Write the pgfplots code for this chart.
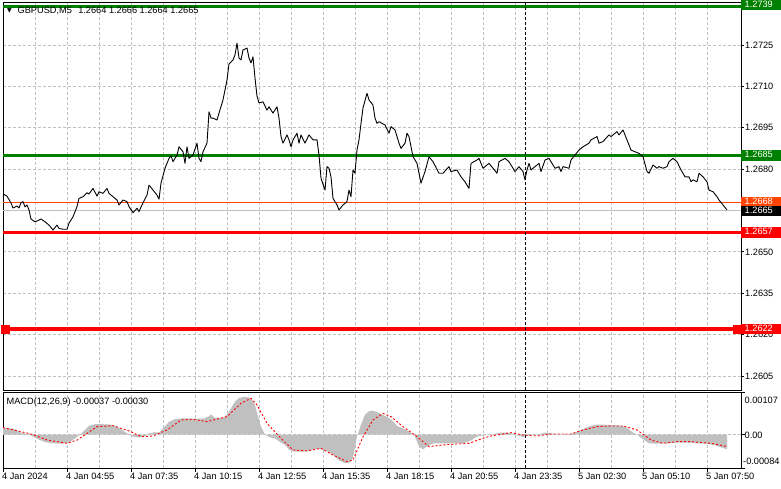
\documentclass[border=0pt]{standalone}
\usepackage{pgfplots}
\pgfplotsset{compat=1.18}
\usepackage{fontspec}
\setmainfont{Liberation Sans}
\newfontfamily\symfont{DejaVu Sans}
\definecolor{mtgreen}{HTML}{008000}
\definecolor{mtorange}{HTML}{FF4500}
\definecolor{silver}{HTML}{C0C0C0}
\definecolor{mtred}{HTML}{FF0000}
\newcommand{\mtfont}{\fontsize{9.2bp}{10.5bp}\selectfont}
\tikzset{
  lbl/.style={anchor=west, text=white, inner xsep=3.5bp, inner ysep=1bp, text width=34bp, align=left, text height=6.6bp, text depth=1.8bp, font=\mtfont},
}
\begin{document}
\begin{tikzpicture}[font=\mtfont]
\path[use as bounding box] (0bp,0bp) rectangle (781bp,489bp);
% ---------------- main price panel ----------------
\begin{axis}[
  at={(3bp,99bp)}, anchor=south west, scale only axis,
  width=738bp, height=388bp,
  xmin=0, xmax=369, ymin=1.25999, ymax=1.27406,
  clip=false,
  xtick={16,32,...,352}, xticklabels={}, xtick style={draw=none},
  xmajorgrids, ymajorgrids,
  major grid style={silver, dash pattern=on 3bp off 2bp, line width=0.7bp},
  ytick={1.2605,1.2620,1.2635,1.2650,1.2665,1.2680,1.2695,1.2710,1.2725},
  yticklabels={1.2605,1.2620,1.2635,1.2650,1.2665,1.2680,1.2695,1.2710,1.2725},
  ytick pos=right, yticklabel pos=right, tick align=outside, major tick length=3bp,
  ytick style={black, line width=0.7bp},
  yticklabel style={anchor=west, inner sep=0pt, xshift=1bp},
  tick label style={font=\mtfont},
  axis line style={black, line width=0.9bp},
]
\addplot[mtgreen, line width=3.5bp] coordinates {(0,1.2739) (369,1.2739)};
\addplot[mtgreen, line width=2.5bp] coordinates {(0,1.2685) (369,1.2685)};
\addplot[mtorange, line width=1bp] coordinates {(0,1.2668) (369,1.2668)};
\addplot[silver, line width=1bp] coordinates {(0,1.2665) (369,1.2665)};
\addplot[mtred, line width=2.5bp] coordinates {(0,1.2657) (369,1.2657)};
\addplot[mtred, line width=4bp] coordinates {(0,1.2622) (369,1.2622)};
\addplot[mtred, only marks, mark=square*, mark size=4bp] coordinates {(0.9,1.2622) (367,1.2622)};
\addplot[black, dash pattern=on 3bp off 2bp, line width=0.8bp] coordinates {(261,1.25999) (261,1.27406)};
\addplot[black, line width=0.9bp, line join=round] coordinates {
(0,1.26710)(2,1.26702)(4,1.26677)(5,1.26659)(7,1.26666)(8,1.26659)(9,1.26678)(10,1.26682)(11,1.26663)(12,1.26670)(13,1.26652)(14,1.26619)(16,1.26609)(18,1.26615)(19,1.26619)(21,1.26609)(23,1.26597)(25,1.26579)(27,1.26597)(28,1.26585)(30,1.26582)(32,1.26582)(33,1.26604)(35,1.26627)(37,1.26664)(38,1.26694)(40,1.26700)(42,1.26714)(43,1.26710)(45,1.26730)(47,1.26702)(48,1.26718)(50,1.26712)(52,1.26730)(53,1.26712)(55,1.26700)(57,1.26688)(58,1.26670)(60,1.26688)(62,1.26682)(63,1.26664)(65,1.26642)(67,1.26658)(68,1.26646)(70,1.26678)(72,1.26706)(73,1.26742)(75,1.26724)(77,1.26706)(78,1.26691)(79,1.26749)(81,1.26803)(83,1.26839)(84,1.26848)(85,1.26827)(87,1.26851)(88,1.26881)(90,1.26863)(91,1.26821)(92,1.26881)(93,1.26839)(95,1.26851)(97,1.26894)(98,1.26839)(99,1.26827)(100,1.26863)(102,1.26894)(103,1.27008)(104,1.26985)(105,1.26985)(107,1.26978)(108,1.27003)(110,1.27051)(112,1.27123)(113,1.27181)(115,1.27196)(116,1.27214)(117,1.27257)(118,1.27203)(119,1.27196)(120,1.27232)(122,1.27239)(123,1.27203)(124,1.27185)(125,1.27207)(126,1.27130)(127,1.27065)(128,1.27040)(130,1.27044)(132,1.27014)(133,1.27026)(135,1.27003)(137,1.27026)(138,1.26985)(139,1.26918)(140,1.26894)(142,1.26924)(143,1.26906)(144,1.26881)(145,1.26906)(147,1.26930)(148,1.26894)(149,1.26924)(151,1.26894)(153,1.26924)(155,1.26906)(157,1.26906)(158,1.26851)(159,1.26767)(161,1.26724)(162,1.26809)(163,1.26803)(164,1.26772)(165,1.26694)(167,1.26670)(168,1.26652)(170,1.26670)(172,1.26682)(173,1.26724)(174,1.26700)(175,1.26797)(176,1.26785)(177,1.26869)(178,1.26906)(179,1.26966)(180,1.27022)(182,1.27075)(183,1.27051)(185,1.27032)(186,1.26985)(187,1.26966)(188,1.26972)(191,1.26960)(193,1.26930)(194,1.26954)(196,1.26942)(198,1.26894)(199,1.26875)(201,1.26894)(202,1.26930)(203,1.26918)(205,1.26845)(207,1.26821)(209,1.26749)(211,1.26791)(213,1.26845)(215,1.26827)(218,1.26785)(220,1.26785)(223,1.26809)(224,1.26791)(227,1.26797)(229,1.26772)(231,1.26754)(233,1.26730)(234,1.26821)(237,1.26833)(238,1.26839)(240,1.26803)(242,1.26815)(243,1.26821)(245,1.26803)(247,1.26785)(248,1.26827)(251,1.26839)(253,1.26827)(256,1.26791)(258,1.26809)(260,1.26791)(261,1.26761)(262,1.26797)(263,1.26821)(264,1.26797)(266,1.26809)(268,1.26821)(269,1.26791)(271,1.26833)(273,1.26839)(274,1.26827)(276,1.26803)(278,1.26809)(279,1.26791)(280,1.26809)(283,1.26803)(284,1.26833)(286,1.26851)(288,1.26869)(290,1.26881)(293,1.26894)(294,1.26906)(297,1.26918)(298,1.26894)(300,1.26900)(303,1.26924)(304,1.26918)(307,1.26936)(308,1.26924)(310,1.26942)(312,1.26906)(314,1.26869)(316,1.26863)(318,1.26857)(320,1.26845)(322,1.26791)(323,1.26785)(325,1.26815)(327,1.26803)(328,1.26809)(330,1.26803)(332,1.26809)(333,1.26827)(335,1.26839)(337,1.26827)(339,1.26797)(341,1.26772)(343,1.26772)(344,1.26754)(345,1.26761)(347,1.26754)(348,1.26785)(350,1.26772)(352,1.26754)(353,1.26724)(355,1.26718)(357,1.26700)(358,1.26688)(360,1.26670)(362,1.26652)
};
% price boxes on the right scale
\node[lbl, fill=mtgreen] at (axis cs:369,1.27395) {1.2739};
\node[lbl, fill=mtgreen] at (axis cs:369,1.2685) {1.2685};
\node[lbl, fill=mtorange] at (axis cs:369,1.2668) {1.2668};
\node[lbl, fill=black] at (axis cs:369,1.26648) {1.2665};
\node[lbl, fill=mtred] at (axis cs:369,1.2657) {1.2657};
\node[lbl, fill=mtred] at (axis cs:369,1.2622) {1.2622};
\end{axis}
% ---------------- MACD panel ----------------
\begin{axis}[
  at={(3bp,21bp)}, anchor=south west, scale only axis,
  width=738bp, height=76bp,
  xmin=0, xmax=369, ymin=-0.00084, ymax=0.00107,
  xtick={0,32,...,352},
  xticklabels={4 Jan 2024,4 Jan 04:55,4 Jan 07:35,4 Jan 10:15,4 Jan 12:55,4 Jan 15:35,4 Jan 18:15,4 Jan 20:55,4 Jan 23:35,5 Jan 02:30,5 Jan 05:10,5 Jan 07:50},
  minor xtick={16,48,...,336},
  xmajorgrids, xminorgrids,
  grid style={silver, dash pattern=on 3bp off 2bp, line width=0.7bp},
  minor tick length=0pt,
  xtick pos=bottom, ytick pos=right, tick align=outside, major tick length=4bp,
  tick style={black, line width=0.7bp},
  ytick={-0.00084,0,0.00107}, yticklabels={}, scaled y ticks=false,
  xticklabel style={anchor=north west, inner sep=0pt, xshift=-1bp, yshift=-1bp},
  tick label style={font=\mtfont},
  axis line style={black, line width=0.9bp},
]
\addplot[silver, dash pattern=on 3bp off 2bp, line width=0.7bp] coordinates {(0,0) (369,0)};
\addplot[fill=silver, draw=none] coordinates {
(0,0)(0,0.000174)(5,0.00015)(9,0.00005)(13,0)(15,-0.00005)(18,-0.00013)(21,-0.00019)(25,-0.00022)(30,-0.00023)(33,-0.00020)(35,-0.00013)(37,-0.00006)(39,0.00002)(41,0.00012)(43,0.00022)(46,0.00026)(50,0.00026)(54,0.00025)(57,0.00020)(60,0.00010)(63,0)(65,-0.00005)(68,-0.00007)(71,-0.00004)(73,0.00003)(76,0.00006)(78,0.00005)(80,0.00015)(83,0.00032)(86,0.00039)(90,0.00041)(95,0.00040)(100,0.00040)(103,0.00046)(104,0.00051)(106,0.00042)(110,0.00042)(112,0.00050)(114,0.00066)(116,0.00083)(118,0.00092)(121,0.00095)(124,0.00092)(126,0.00075)(127,0.00054)(129,0.00020)(131,0)(133,-0.00006)(136,-0.00010)(139,-0.00020)(141,-0.00026)(143,-0.00038)(146,-0.00043)(150,-0.00043)(153,-0.00041)(156,-0.00036)(159,-0.00036)(162,-0.00042)(165,-0.00051)(168,-0.00065)(171,-0.00072)(173,-0.00072)(175,-0.00058)(177,-0.00005)(179,0.00025)(181,0.00050)(183,0.00059)(185,0.00060)(188,0.00054)(191,0.00047)(194,0.00038)(197,0.00022)(200,0.00015)(203,0.00008)(206,-0.00005)(208,-0.00030)(210,-0.00037)(212,-0.00030)(215,-0.00022)(220,-0.00022)(225,-0.00022)(230,-0.00022)(234,-0.00015)(237,-0.00005)(240,-0.00002)(243,0)(246,0.00002)(249,0.00005)(252,0.00005)(255,0.00002)(258,-0.00003)(260,-0.00006)(263,-0.00002)(266,0)(269,0.00002)(271,0.00005)(274,0.00003)(278,0)(282,0)(285,0.00003)(288,0.00008)(291,0.00016)(294,0.00022)(297,0.00025)(300,0.00025)(304,0.00024)(308,0.00023)(311,0.00020)(313,0.00013)(315,0.00005)(317,0)(319,-0.00008)(321,-0.00015)(323,-0.00022)(327,-0.00023)(332,-0.00022)(337,-0.00020)(342,-0.00020)(347,-0.00022)(352,-0.00023)(356,-0.00027)(359,-0.00032)(362,-0.00037)(362,0)
} \closedcycle;
\addplot[mtred, dash pattern=on 2bp off 2bp, line width=0.9bp] coordinates {
(0,0.000174)(9,0.000074)(15,0)(22,-0.000136)(32,-0.000219)(37,-0.00014)(42,0.00003)(47,0.00020)(55,0.000224)(64,0.000074)(69,-0.000052)(75,-0.000035)(82,0.000116)(89,0.000367)(95,0.000384)(102,0.000325)(112,0.000451)(119,0.000786)(124,0.000911)(127,0.000744)(132,0.000283)(139,-0.000094)(145,-0.000387)(152,-0.000412)(159,-0.000345)(165,-0.000513)(172,-0.00068)(175,-0.000638)(180,-0.000052)(185,0.000367)(190,0.000534)(194,0.00045)(200,0.000199)(207,-0.000052)(213,-0.000303)(220,-0.000261)(227,-0.000236)(233,-0.000219)(240,-0.000094)(244,-0.000035)(254,0.000049)(260,-0.00001)(267,-0.000035)(274,0.000015)(284,0.000015)(290,0.000116)(297,0.000199)(304,0.000216)(310,0.000216)(317,0.000116)(324,-0.000136)(330,-0.000219)(337,-0.000178)(344,-0.000178)(354,-0.000219)(362,-0.00030)
};
\addplot[black, dash pattern=on 3bp off 2bp, line width=0.8bp] coordinates {(261,-0.00084) (261,0.00107)};
\end{axis}
% ---------------- texts ----------------
\node[anchor=center, inner sep=0pt, font=\symfont\fontsize{6bp}{7bp}\selectfont] at (9.5bp,478bp) {▼};
\node[anchor=west, inner sep=0pt] at (17.5bp,478bp) {GBPUSD,M5\hspace{0.7em}1.2664 1.2666 1.2664 1.2665};
\node[anchor=west, inner sep=0pt] at (6.5bp,87.3bp) {MACD(12,26,9) -0.00037 -0.00030};
\node[anchor=west, inner sep=0pt] at (744.5bp,89bp) {0.00107};
\node[anchor=west, inner sep=0pt] at (744.5bp,53.7bp) {0.00};
\node[anchor=west, inner sep=0pt] at (743bp,28bp) {-0.00084};
\end{tikzpicture}
\end{document}
